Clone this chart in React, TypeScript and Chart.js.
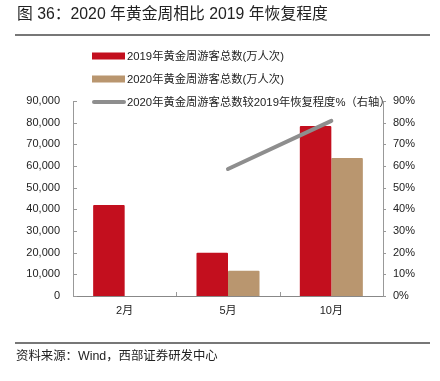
import React, { useEffect, useRef } from "react";
import { Chart, registerables } from "chart.js";

Chart.register(...registerables);

const categories = ["2月", "5月", "10月"];
const visitors2019 = [42000, 20000, 78500];
const visitors2020 = [null, 11700, 63700];
const recoveryPct = [null, 58.6, 80.8];
const leftTicks = { min: 0, max: 90000, step: 10000 };
const rightTicks = { min: 0, max: 90, step: 10 };
const seriesNames = [
  "2019年黄金周游客总数(万人次)",
  "2020年黄金周游客总数(万人次)",
  "2020年黄金周游客总数较2019年恢复程度%（右轴）",
];
const titleText = "图 36：2020 年黄金周相比 2019 年恢复程度";
const sourceText = "资料来源：Wind，西部证券研发中心";

const RED = "#C30F1E";
const TAN = "#B9966F";
const GRAY = "#8E8E8E";
const FONT = '"Liberation Sans", "Noto Sans CJK SC", sans-serif';

const axisPlugin = {
  id: "customAxisTicks",
  afterDatasetsDraw(chart: any) {
    const ctx = chart.ctx;
    const ca = chart.chartArea;
    const y = chart.scales.y;
    const y1 = chart.scales.y1;
    ctx.save();
    ctx.strokeStyle = "#999";
    ctx.lineWidth = 1;
    ctx.beginPath();
    y.ticks.forEach((t: any) => {
      const py = Math.round(y.getPixelForValue(t.value)) + 0.5;
      ctx.moveTo(ca.left, py);
      ctx.lineTo(ca.left + 4, py);
    });
    y1.ticks.forEach((t: any) => {
      const py = Math.round(y1.getPixelForValue(t.value)) + 0.5;
      ctx.moveTo(ca.right, py);
      ctx.lineTo(ca.right + 3, py);
    });
    const n = chart.data.labels.length;
    for (let i = 0; i <= n; i++) {
      const px = Math.round(ca.left + ((ca.right - ca.left) * i) / n) + 0.5;
      ctx.moveTo(px, ca.bottom);
      ctx.lineTo(px, ca.bottom - 4);
    }
    ctx.stroke();
    ctx.restore();
  },
};

const legendPlugin = {
  id: "customLegend",
  afterDraw(chart: any) {
    const ctx = chart.ctx;
    const ds = chart.data.datasets;
    const ys = [56, 79, 102];
    ctx.save();
    ctx.font = `11.3px ${FONT}`;
    ctx.textBaseline = "middle";
    ds.forEach((d: any, k: number) => {
      const yy = ys[k];
      if (d.type === "line") {
        ctx.strokeStyle = d.borderColor;
        ctx.lineWidth = 4;
        ctx.lineCap = "round";
        ctx.beginPath();
        ctx.moveTo(94, yy);
        ctx.lineTo(124, yy);
        ctx.stroke();
      } else {
        ctx.fillStyle = d.backgroundColor;
        ctx.fillRect(92, yy - 3.5, 33, 7);
      }
      ctx.fillStyle = "#222";
      ctx.fillText(d.label, 127, yy + 0.5);
    });
    ctx.restore();
  },
};

export default function App() {
  const ref = useRef<HTMLCanvasElement>(null);
  useEffect(() => {
    const chart = new Chart(ref.current as HTMLCanvasElement, {
      type: "bar",
      data: {
        labels: categories,
        datasets: [
          {
            type: "bar",
            label: seriesNames[0],
            data: visitors2019,
            backgroundColor: RED,
            yAxisID: "y",
            order: 2,
            barPercentage: 1,
            categoryPercentage: 0.61,
            borderRadius: 1,
          },
          {
            type: "bar",
            label: seriesNames[1],
            data: visitors2020 as any,
            backgroundColor: TAN,
            yAxisID: "y",
            order: 2,
            barPercentage: 1,
            categoryPercentage: 0.61,
            borderRadius: 1,
          },
          {
            type: "line",
            label: seriesNames[2],
            data: recoveryPct as any,
            borderColor: GRAY,
            backgroundColor: GRAY,
            borderWidth: 4,
            borderCapStyle: "round",
            pointRadius: 0,
            yAxisID: "y1",
            order: 0,
          } as any,
        ],
      },
      options: {
        animation: false,
        responsive: true,
        maintainAspectRatio: false,
        layout: { padding: { top: 101, bottom: 55, left: 0, right: 0 } },
        plugins: { legend: { display: false }, tooltip: { enabled: false } },
        scales: {
          x: {
            grid: { display: false, drawTicks: false },
            border: { display: true, color: "#888" },
            ticks: { font: { family: FONT, size: 11 }, color: "#222", padding: 8 },
            afterFit(s: any) {
              s.height = 30;
            },
          },
          y: {
            position: "left",
            min: leftTicks.min,
            max: leftTicks.max,
            grid: { display: false, drawTicks: false },
            border: { display: true, color: "#999" },
            ticks: {
              stepSize: leftTicks.step,
              padding: 13,
              font: { family: FONT, size: 11 },
              color: "#222",
              callback: (v: any) => Number(v).toLocaleString("en-US"),
            },
            afterFit(s: any) {
              s.width = 73;
            },
          },
          y1: {
            position: "right",
            min: rightTicks.min,
            max: rightTicks.max,
            grid: { display: false, drawTicks: false },
            border: { display: true, color: "#999" },
            ticks: {
              stepSize: rightTicks.step,
              padding: 10,
              font: { family: FONT, size: 11 },
              color: "#222",
              callback: (v: any) => `${v}%`,
            },
            afterFit(s: any) {
              s.width = 57;
            },
          },
        },
      },
      plugins: [axisPlugin, legendPlugin],
    });
    return () => chart.destroy();
  }, []);

  return (
    <div
      style={{
        position: "absolute",
        left: 0,
        top: 0,
        width: 440,
        height: 381,
        background: "#fff",
        fontFamily: FONT,
        color: "#222",
      }}
    >
      <canvas ref={ref} width={440} height={381} style={{ position: "absolute", left: 0, top: 0 }} />
      <div
        style={{
          position: "absolute",
          left: 17,
          top: 4,
          fontSize: 15.8,
          lineHeight: "20px",
          whiteSpace: "nowrap",
        }}
      >
        {titleText}
      </div>
      <div style={{ position: "absolute", left: 15, top: 34, width: 415, height: 1.5, background: "#777" }} />
      <div style={{ position: "absolute", left: 15, top: 342, width: 415, height: 1.5, background: "#777" }} />
      <div
        style={{
          position: "absolute",
          left: 16,
          top: 347,
          fontSize: 12.4,
          lineHeight: "18px",
          whiteSpace: "nowrap",
        }}
      >
        {sourceText}
      </div>
    </div>
  );
}
